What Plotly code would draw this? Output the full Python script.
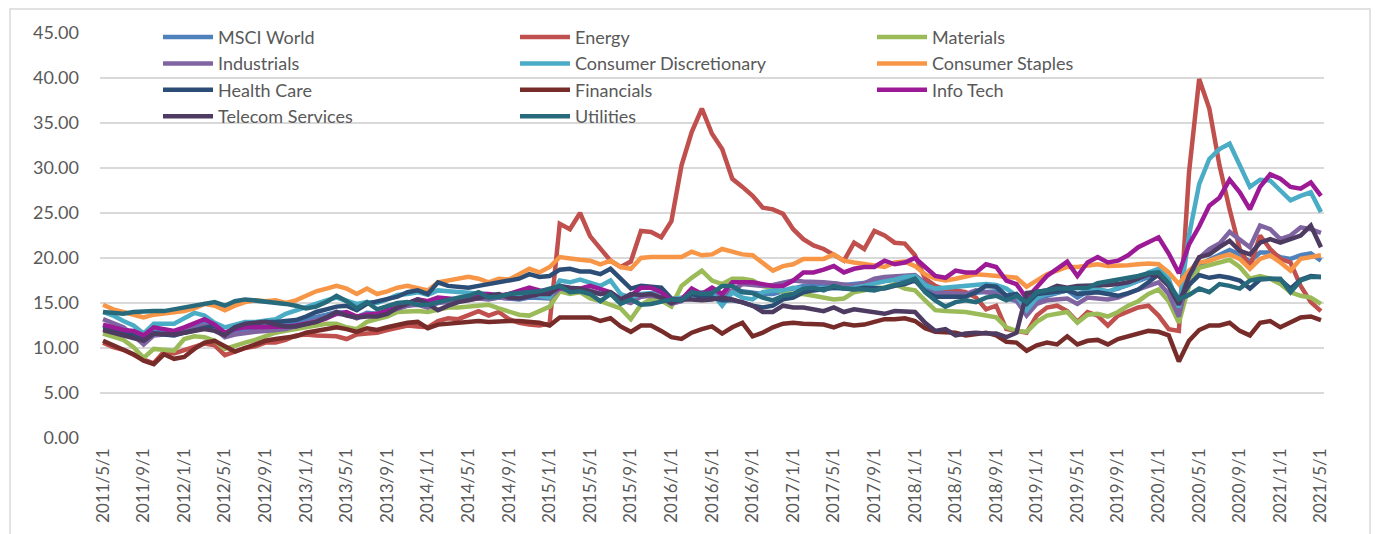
import plotly.graph_objects as go

# Categories: monthly dates 2011/5/1 .. 2021/5/1
dates = [f"{2011 + (4 + k) // 12}/{(4 + k) % 12 + 1}/1" for k in range(121)]
tick_labels = dates[::4]

msci_world = [
    12.5, 12.1, 11.8, 11.4, 10.9, 11.8, 11.7, 11.6, 12.0, 12.4,
    12.7, 12.4, 11.5, 11.9, 12.1, 12.2, 12.4, 12.5, 12.6, 12.8,
    13.2, 13.4, 13.7, 14.0, 13.9, 13.4, 13.9, 13.8, 14.1, 14.5,
    14.8, 15.0, 14.7, 15.1, 15.2, 15.3, 15.4, 15.6, 15.5, 15.6,
    15.5, 15.4, 15.6, 15.6, 15.5, 16.4, 16.3, 16.4, 16.3, 16.0,
    16.1, 15.3, 15.1, 15.8, 15.8, 15.6, 15.0, 15.3, 15.9, 15.8,
    16.0, 15.7, 16.1, 16.3, 16.1, 16.0, 16.0, 16.3, 16.6, 16.9,
    17.0, 17.1, 17.2, 17.0, 17.1, 17.2, 17.3, 17.5, 17.6, 17.7,
    17.8, 16.8, 16.1, 15.9, 16.0, 16.0, 16.1, 16.3, 16.3, 15.5,
    15.2, 14.0, 15.3, 15.8, 16.1, 16.4, 15.6, 16.3, 16.5, 16.3,
    16.6, 17.0, 17.4, 17.9, 18.3, 17.0, 14.3, 17.6, 19.2, 19.8,
    20.3, 20.9, 20.4, 19.6, 20.6, 20.6, 20.1, 19.9, 20.3, 20.5,
    19.7]
energy = [
    10.6, 10.1, 9.8, 9.2, 8.7, 8.3, 9.6, 9.4, 9.8, 10.2,
    10.5, 10.3, 9.2, 9.6, 10.0, 10.2, 10.6, 10.6, 10.9, 11.4,
    11.5, 11.4, 11.4, 11.3, 11.0, 11.5, 11.6, 11.7, 12.0, 12.2,
    12.5, 12.4, 12.3, 13.0, 13.3, 13.2, 13.6, 14.1, 13.6, 14.0,
    13.2, 12.8, 12.6, 12.5, 12.7, 23.8, 23.2, 25.0, 22.4, 21.0,
    19.7, 19.0, 19.6, 23.0, 22.9, 22.3, 24.1, 30.3, 34.0, 36.6,
    33.8, 32.1, 28.8, 27.9, 26.9, 25.6, 25.4, 24.9, 23.2, 22.1,
    21.4, 21.0, 20.3, 19.7, 21.7, 21.0, 23.0, 22.5, 21.7, 21.6,
    20.3, 17.7, 16.9, 16.5, 16.4, 16.2, 15.6, 14.3, 14.7, 12.1,
    11.9, 11.7, 13.6, 14.5, 14.7, 14.1, 12.9, 14.0, 13.6, 12.5,
    13.6, 14.0, 14.5, 14.7, 13.6, 12.1, 11.9, 29.5, 39.9, 36.6,
    30.3, 25.4, 21.0, 19.0, 22.5, 21.0, 19.9, 19.5, 16.9, 15.1,
    14.1]
materials = [
    11.6, 11.2, 10.9, 10.1, 8.9, 9.9, 9.8, 9.7, 11.0, 11.3,
    11.2, 10.8, 9.9, 10.3, 10.6, 10.9, 11.3, 11.7, 11.9, 12.1,
    12.4, 12.6, 12.7, 12.7, 12.3, 12.1, 12.9, 13.2, 13.5, 14.0,
    14.1, 14.1, 14.0, 14.3, 14.5, 14.5, 14.6, 14.8, 14.8, 14.4,
    14.1, 13.7, 13.6, 14.1, 14.6, 16.3, 16.0, 16.2, 15.5, 15.2,
    14.8, 14.4, 13.2, 14.8, 15.4, 15.3, 14.6, 16.9, 17.8, 18.6,
    17.5, 17.1, 17.7, 17.7, 17.5, 16.9, 16.6, 16.2, 16.0, 16.0,
    15.8, 15.6, 15.4, 15.5, 16.2, 16.4, 16.7, 16.7, 17.1, 16.6,
    16.4, 15.3, 14.2, 14.1, 14.1, 14.0, 13.8, 13.6, 13.4, 12.3,
    11.9, 11.8, 12.9, 13.6, 13.8, 14.0, 12.8, 13.7, 13.8, 13.5,
    14.0, 14.7, 15.2, 16.0, 16.5, 15.2, 12.8, 16.9, 18.9, 19.2,
    19.6, 19.8, 19.0, 17.7, 18.0, 17.7, 17.1, 16.2, 15.8, 15.6,
    14.9]
industrials = [
    13.2, 12.7, 12.3, 11.4, 10.4, 11.4, 11.5, 11.6, 11.9, 12.2,
    12.5, 12.1, 11.2, 11.5, 11.7, 11.8, 11.9, 12.0, 12.1, 12.4,
    12.8, 13.1, 13.4, 13.8, 13.7, 13.3, 13.8, 13.6, 14.0, 14.4,
    14.7, 14.8, 14.5, 15.0, 15.1, 15.2, 15.3, 15.5, 15.4, 15.6,
    15.5, 15.6, 15.9, 15.8, 15.6, 16.6, 16.4, 16.5, 16.4, 16.0,
    16.1, 15.3, 15.0, 15.7, 15.8, 15.6, 14.9, 15.2, 15.9, 16.1,
    16.2, 16.0, 16.4, 17.1, 17.0, 16.9, 17.0, 17.3, 17.5, 17.4,
    17.4, 17.3, 17.2, 17.1, 16.9, 17.2, 17.7, 17.9, 18.0, 18.1,
    18.1, 17.2, 16.3, 16.1, 16.0, 16.0, 16.4, 16.2, 16.0, 15.6,
    15.3, 13.6, 14.9, 15.3, 15.4, 15.5, 14.9, 15.6, 15.5, 15.4,
    15.6, 16.1, 16.5, 16.9, 17.3, 16.0, 13.5, 18.2, 20.0, 21.0,
    21.6, 22.9, 22.1, 21.2, 23.6, 23.2, 22.1, 22.5, 23.4, 23.2,
    22.8]
consumer_discretionary = [
    14.0, 13.6, 13.0, 12.5, 11.6, 12.7, 12.7, 12.7, 13.3, 13.9,
    13.6, 12.8, 12.3, 12.6, 12.9, 12.9, 13.0, 13.2, 13.8, 14.2,
    14.5, 14.9, 15.3, 15.6, 15.3, 14.9, 15.1, 15.0, 15.4, 15.9,
    16.0, 16.2, 15.9, 16.4, 16.3, 16.2, 16.2, 16.0, 16.0, 15.9,
    15.8, 16.0, 16.1, 15.8, 15.6, 17.5, 17.3, 17.6, 17.3, 16.9,
    17.5, 16.0, 15.6, 16.0, 16.1, 16.2, 15.4, 15.6, 15.8, 16.2,
    16.1, 14.7, 16.2, 15.6, 15.4, 16.2, 16.4, 16.4, 16.7, 16.6,
    16.6, 16.6, 16.6, 16.6, 16.7, 16.9, 17.2, 17.4, 17.6, 17.9,
    18.0, 17.0, 16.6, 16.7, 16.9, 16.9, 17.1, 17.1, 17.0, 16.6,
    15.8, 14.2, 15.6, 16.0, 16.2, 16.4, 16.0, 16.4, 16.6, 16.2,
    16.7, 17.0, 17.5, 18.4, 18.8, 17.7, 14.5, 22.5, 28.2, 31.0,
    32.1, 32.7, 30.3, 27.9, 28.7, 28.6, 27.5, 26.4, 26.9, 27.3,
    25.1]
consumer_staples = [
    14.8, 14.3, 14.0, 13.7, 13.4, 13.7, 13.8, 14.0, 14.1, 14.4,
    14.9, 14.7, 14.2, 14.7, 15.1, 15.3, 15.2, 15.3, 15.0, 15.3,
    15.8, 16.3, 16.6, 16.9, 16.6, 16.0, 16.6, 16.0, 16.3, 16.7,
    16.9, 16.7, 16.4, 17.3, 17.5, 17.7, 17.9, 17.7, 17.3, 17.7,
    17.6, 18.2, 18.8, 18.4, 19.0, 20.1, 19.9, 19.8, 19.7, 19.3,
    19.7, 19.0, 18.8, 20.0, 20.1, 20.1, 20.1, 20.1, 20.7, 20.3,
    20.4, 21.0, 20.7, 20.4, 20.3, 19.5, 18.6, 19.1, 19.3, 19.9,
    19.9, 19.9, 20.4, 19.7, 19.5, 19.3, 19.1, 19.0, 19.5, 19.6,
    19.1, 18.2, 17.7, 17.5, 17.7, 17.9, 18.2, 18.1, 18.0, 18.0,
    17.8, 16.8, 17.5, 18.2, 18.6, 19.0, 19.0, 19.2, 19.3, 19.1,
    19.1, 19.2, 19.3, 19.4, 19.3, 18.4, 17.1, 18.6, 19.5, 19.7,
    20.1, 20.4, 19.9, 18.8, 19.9, 20.3, 19.5, 18.6, 19.9, 20.1,
    20.3]
health_care = [
    12.2, 12.0, 11.8, 11.4, 10.9, 11.6, 11.5, 11.4, 11.7, 12.0,
    12.2, 12.5, 11.6, 12.3, 12.6, 12.8, 12.9, 12.9, 13.0, 13.1,
    13.5, 14.0, 14.3, 14.6, 14.7, 14.2, 14.9, 15.2, 15.4, 15.7,
    16.2, 16.4, 16.0, 17.3, 16.9, 16.8, 16.7, 16.9, 17.1, 17.2,
    17.4, 17.7, 18.2, 17.9, 18.0, 18.7, 18.8, 18.5, 18.5, 18.2,
    18.8, 17.7, 16.6, 16.9, 16.8, 16.7, 15.5, 15.3, 16.0, 15.6,
    15.6, 15.3, 15.3, 15.1, 14.7, 14.5, 14.7, 15.4, 15.6, 16.2,
    16.4, 16.6, 16.7, 16.6, 16.5, 16.7, 16.7, 16.6, 16.9, 17.1,
    17.5, 16.3, 15.7, 15.7, 15.8, 15.7, 16.2, 16.9, 16.8, 15.8,
    16.0, 14.9, 16.0, 16.1, 16.2, 16.4, 16.0, 16.1, 16.2, 16.0,
    15.8, 16.1, 16.5, 17.3, 18.2, 17.0, 15.3, 17.0, 18.1, 17.8,
    18.0, 17.8, 17.5, 16.6, 17.6, 17.7, 17.6, 16.6, 17.6, 18.0,
    17.9]
financials = [
    10.8, 10.3, 9.9, 9.3, 8.6, 8.2, 9.3, 8.8, 9.0, 9.9,
    10.6, 10.8, 10.2, 9.6, 10.0, 10.4, 10.8, 11.0, 11.1, 11.3,
    11.7, 11.9, 12.1, 12.3, 12.1, 11.8, 12.2, 12.0, 12.3, 12.6,
    12.8, 12.9, 12.2, 12.6, 12.7, 12.7, 12.9, 13.0, 12.9, 13.0,
    13.0, 13.0, 12.9, 12.8, 12.5, 13.4, 13.4, 13.4, 13.4, 13.0,
    13.3, 12.4, 11.8, 12.5, 12.5, 11.9, 11.2, 11.0, 11.7, 12.1,
    12.4, 11.6, 12.3, 12.8, 11.3, 11.7, 12.3, 12.7, 12.8, 12.7,
    12.7, 12.6, 12.3, 12.7, 12.5, 12.6, 12.9, 13.2, 13.2, 13.3,
    13.0, 12.2, 11.8, 11.8, 11.7, 11.4, 11.6, 11.7, 11.4, 10.7,
    10.6, 9.7, 10.3, 10.6, 10.4, 11.3, 10.4, 10.8, 10.9, 10.4,
    11.0, 11.3, 11.6, 11.9, 11.8, 11.4, 8.5, 10.8, 12.0, 12.5,
    12.5, 12.8, 11.9, 11.4, 12.8, 13.0, 12.3, 12.9, 13.4, 13.5,
    13.1]
info_tech = [
    12.6, 12.3, 12.0, 11.9, 11.4, 12.3, 12.1, 11.9, 12.3, 12.8,
    13.2, 12.6, 11.7, 12.1, 12.3, 12.3, 12.3, 12.4, 12.4, 12.5,
    12.7, 12.9, 13.3, 13.8, 14.0, 13.5, 13.7, 13.8, 14.2, 14.5,
    15.0, 15.4, 15.2, 15.6, 15.5, 15.4, 15.6, 16.0, 16.0, 15.8,
    16.0, 16.3, 16.7, 16.4, 16.2, 16.7, 16.6, 16.6, 16.9, 16.6,
    16.2, 15.4, 15.8, 16.7, 16.7, 16.2, 15.3, 15.4, 16.6, 16.0,
    16.7, 16.0, 17.3, 17.3, 17.3, 17.1, 16.9, 16.9, 17.5, 18.4,
    18.4, 18.7, 19.1, 18.4, 18.8, 19.0, 19.0, 19.7, 19.3, 19.5,
    20.0, 19.0, 18.0, 17.8, 18.6, 18.4, 18.4, 19.3, 19.0, 17.5,
    17.1, 15.5, 16.8, 18.0, 18.8, 19.6, 18.0, 19.5, 20.1, 19.5,
    19.7, 20.3, 21.2, 21.8, 22.3, 20.5, 18.3, 21.5, 23.5, 25.8,
    26.7, 28.7, 27.3, 25.4, 27.9, 29.3, 28.8, 27.9, 27.7, 28.4,
    26.9]
telecom_services = [
    12.0, 11.7, 11.5, 11.1, 10.8, 11.6, 11.6, 11.5, 11.7, 11.9,
    12.1, 11.9, 11.4, 12.3, 12.7, 12.8, 12.9, 12.6, 12.4, 12.4,
    12.6, 12.9, 13.4, 14.0, 13.6, 13.4, 13.5, 13.5, 13.8, 14.5,
    14.9, 15.4, 14.9, 14.2, 14.7, 15.1, 15.3, 15.6, 15.8, 16.0,
    15.6, 15.5, 15.8, 16.0, 16.0, 16.9, 16.7, 16.6, 16.3, 16.0,
    16.2, 15.4, 16.0, 15.9, 16.0, 15.6, 15.0, 15.4, 15.4, 15.3,
    15.4, 15.6, 15.4, 15.1, 14.7, 14.0, 14.0, 14.7, 14.5, 14.5,
    14.3, 14.1, 14.5, 14.0, 14.3, 14.1, 14.0, 13.8, 14.1, 14.1,
    14.0, 12.8, 11.9, 12.1, 11.4, 11.6, 11.7, 11.6, 11.6, 11.2,
    11.7, 16.1, 16.2, 16.4, 16.9, 16.7, 16.9, 16.9, 16.9, 17.0,
    17.1, 17.3, 17.7, 18.2, 18.0, 16.9, 14.8, 18.0, 20.1, 20.4,
    21.2, 21.9, 20.8, 20.4, 21.7, 22.1, 21.7, 22.1, 22.5, 23.6,
    21.2]
utilities = [
    14.0, 13.9, 13.8, 14.0, 14.1, 14.1, 14.1, 14.3, 14.5, 14.7,
    15.0, 15.1, 14.7, 15.2, 15.4, 15.3, 15.2, 15.0, 14.9, 14.7,
    14.4, 14.6, 15.1, 15.8, 15.2, 14.4, 15.1, 14.3, 14.6, 15.0,
    15.1, 14.8, 14.8, 15.1, 15.4, 15.6, 15.8, 16.2, 15.6, 15.7,
    16.0, 16.1, 16.2, 16.3, 16.6, 16.9, 16.2, 16.3, 16.0, 15.2,
    16.0, 14.9, 15.4, 14.8, 14.9, 15.2, 15.4, 15.3, 16.2, 16.0,
    16.1, 16.9, 16.9, 16.2, 16.1, 15.6, 15.3, 15.8, 16.0, 16.6,
    16.7, 16.4, 16.9, 16.6, 16.6, 16.5, 16.4, 16.7, 16.9, 17.3,
    17.7, 16.2, 15.3, 14.6, 15.1, 15.3, 15.1, 15.6, 15.8, 15.3,
    15.8, 15.1, 16.2, 16.4, 16.6, 16.6, 16.7, 16.7, 17.2, 17.4,
    17.5, 17.7, 18.0, 18.3, 18.4, 17.2, 15.4, 15.9, 16.6, 16.2,
    17.1, 16.9, 16.6, 17.5, 17.7, 17.7, 17.7, 16.2, 17.5, 17.9,
    17.9]

series_names = ["MSCI World", "Energy", "Materials", "Industrials",
                "Consumer Discretionary", "Consumer Staples", "Health Care",
                "Financials", "Info Tech", "Telecom Services", "Utilities"]
series_values = [msci_world, energy, materials, industrials,
                 consumer_discretionary, consumer_staples, health_care,
                 financials, info_tech, telecom_services, utilities]
series_colors = ["#4F81BD", "#C0504D", "#9BBB59", "#8064A2", "#4BACC6",
                 "#F79646", "#2C4D75", "#772C2A", "#9C1A95", "#4D3B62",
                 "#276A7C"]

for v in series_values:
    assert len(v) == len(dates), len(v)

FONT = "Lato, Carlito, Calibri, sans-serif"
GRAY = "#595959"

fig = go.Figure()
for name, vals, col in zip(series_names, series_values, series_colors):
    fig.add_trace(go.Scatter(
        x=dates, y=vals, name=name, mode="lines",
        line=dict(color=col, width=4.5),
    ))

W, H = 1381, 534
L, R, T, B = 100, 57, 33, 96
pw = W - L - R
ph = H - T - B

fig.update_layout(
    width=W, height=H,
    margin=dict(l=L, r=R, t=T, b=B, pad=0),
    paper_bgcolor="white", plot_bgcolor="white",
    font=dict(family=FONT, color=GRAY, size=18),
    showlegend=True,
    legend=dict(
        orientation="h", x=(158 - L) / pw, y=1.035,
        xanchor="left", yanchor="top",
        itemwidth=50,
        entrywidth=292, entrywidthmode="pixels",
        font=dict(family=FONT, size=18, color=GRAY),
        bgcolor="rgba(0,0,0,0)", tracegroupgap=0,
    ),
    xaxis=dict(
        type="category", range=[-0.3, 120.3],
        tickmode="array", tickvals=tick_labels, ticktext=tick_labels,
        tickangle=-90, showgrid=False, zeroline=False, showline=False,
        ticks="", tickfont=dict(family=FONT, size=17, color=GRAY),
        ticklabelstandoff=6,
    ),
    yaxis=dict(
        range=[0, 45], dtick=5, tick0=0, tickformat=".2f",
        showgrid=True, gridcolor="#D9D9D9", gridwidth=2,
        zeroline=False, showline=False, ticks="",
        tickfont=dict(family=FONT, size=18, color=GRAY),
        ticklabelstandoff=20,
    ),
    shapes=[dict(
        type="rect", xref="paper", yref="paper", layer="below",
        x0=(10 - L) / pw, x1=(1370 - L) / pw,
        y0=(H - B - 600) / ph, y1=(H - B - 9) / ph,
        line=dict(color="#D9D9D9", width=1.5), fillcolor="rgba(0,0,0,0)",
    )],
)

fig.write_html(
    "out.html",
    config={"displayModeBar": False},
    post_script="document.body.style.margin='0px';document.body.style.overflow='hidden';",
)
